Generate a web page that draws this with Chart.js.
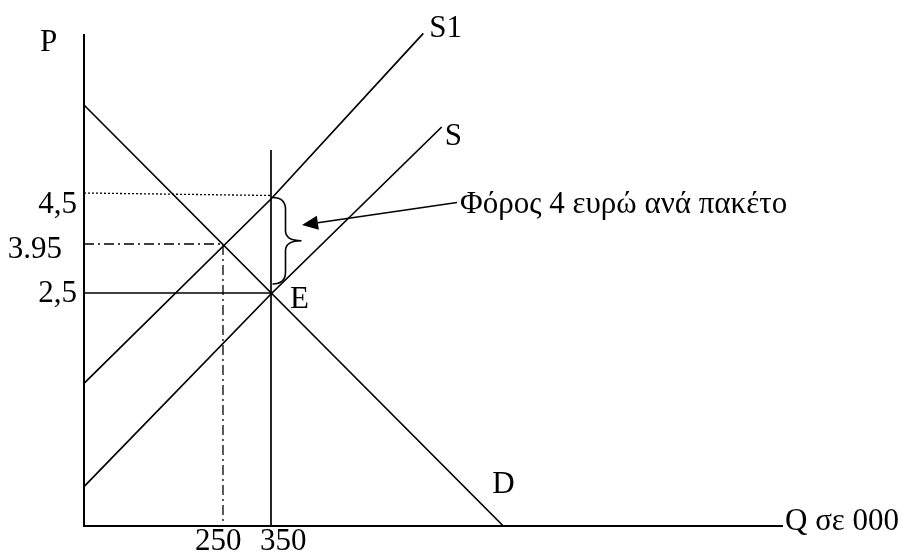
<!DOCTYPE html>
<html>
<head>
<meta charset="utf-8">
<script src="https://cdn.jsdelivr.net/npm/chart.js@4/dist/chart.umd.min.js"></script>
<style>
  html, body { margin: 0; padding: 0; background: #ffffff; }
  #wrap { width: 903px; height: 551px; position: relative; }
</style>
</head>
<body>
<div id="wrap"><canvas id="c" width="903" height="551"></canvas></div>
<script>
// ---- Data (diagram units: schematic economics diagram, not to scale) ----
const demandX  = [0, 41.93];
const demandY  = [42.1, 0];
const supplyX  = [0, 18.7, 35.77];
const supplyY  = [3.93, 23.2, 39.9];
const supply1X = [0, 18.7, 33.93];
const supply1Y = [14.27, 32.7, 49.27];
const quantityLevels = [13.9, 18.7];          // positions of Q = 250 and Q = 350
const quantityLabels = ["250", "350"];
const priceLevels = [33.3, 28.2, 23.3];       // positions of P = 4,5 / 3.95 / 2,5
const priceLabels = ["4,5", "3.95", "2,5"];
const curveLabels = ["S1", "S", "D", "E"];
const axisLabels = ["P", "Q σε 000"];
const taxNote = "Φόρος 4 ευρώ ανά πακέτο";

function pts(xs, ys) { return xs.map((x, i) => ({ x: x, y: ys[i] })); }

const FONT = '31px "Liberation Serif", "Times New Roman", serif';

const lineBase = { showLine: true, pointRadius: 0, borderColor: '#000', borderWidth: 1.7, fill: false, tension: 0, clip: false };

const datasets = [
  Object.assign({}, lineBase, { label: 'D',  data: pts(demandX, demandY) }),
  Object.assign({}, lineBase, { label: 'S',  data: pts(supplyX, supplyY) }),
  Object.assign({}, lineBase, { label: 'S1', data: pts(supply1X, supply1Y) }),
  // vertical line at Q = 350
  Object.assign({}, lineBase, { label: 'Q350', data: [{ x: quantityLevels[1], y: 0 }, { x: quantityLevels[1], y: 37.6 }] }),
  // solid price line at 2,5
  Object.assign({}, lineBase, { label: 'P25', data: [{ x: 0, y: priceLevels[2] }, { x: quantityLevels[1], y: priceLevels[2] }] }),
  // dotted line at 4,5
  Object.assign({}, lineBase, { label: 'P45', borderWidth: 1.3, borderDash: [2, 2], data: [{ x: 0, y: priceLevels[0] }, { x: quantityLevels[1], y: 33.05 }] }),
  // dash-dot lines at 3.95 / 250
  Object.assign({}, lineBase, { label: 'P395', borderWidth: 1.3, borderDash: [10, 4, 2, 4], data: [{ x: 0, y: priceLevels[1] }, { x: quantityLevels[0], y: priceLevels[1] }, { x: quantityLevels[0], y: 0 }] })
];

const annotations = {
  id: 'annotations',
  afterDatasetsDraw(chart) {
    const ctx = chart.ctx;
    const xs = chart.scales.x, ys = chart.scales.y;
    const X = v => xs.getPixelForValue(v);
    const Y = v => ys.getPixelForValue(v);
    ctx.save();
    ctx.fillStyle = '#000';
    ctx.strokeStyle = '#000';
    ctx.font = FONT;
    ctx.textBaseline = 'alphabetic';

    // axis titles
    ctx.textAlign = 'left';
    ctx.fillText(axisLabels[0], X(0) - 44, Y(49.1) + 16);
    ctx.fillText(axisLabels[1], X(69.8) + 3, Y(0) + 4);

    // price labels (left of the y axis)
    ctx.textAlign = 'right';
    const pDx = [-7, -22, -7];
    const pDy = [20, 14, 9];
    priceLevels.forEach((v, i) => ctx.fillText(priceLabels[i], X(0) + pDx[i], Y(v) + pDy[i]));

    // quantity labels (under the x axis)
    ctx.textAlign = 'left';
    const qDx = [-28, -11];
    quantityLevels.forEach((v, i) => ctx.fillText(quantityLabels[i], X(v) + qDx[i], Y(0) + 24));

    // curve labels
    ctx.fillText(curveLabels[0], X(supply1X[2]) + 6, Y(supply1Y[2]) + 4);
    ctx.fillText(curveLabels[1], X(supplyX[2]) + 3, Y(supplyY[2]) + 18);
    ctx.fillText(curveLabels[2], X(demandX[1]) - 11, Y(0) - 33);
    ctx.fillText(curveLabels[3], X(quantityLevels[1]) + 19, Y(supplyY[1]) + 14);

    // tax note
    ctx.fillText(taxNote, X(37.6), Y(priceLevels[0]) + 20);

    // brace between 4,5 and 2,5 on the Q=350 line
    const bx = X(quantityLevels[1]) + 1.5;
    const top = Y(32.85), bot = Y(24.2), mid = (top + bot) / 2;
    ctx.lineWidth = 1.6;
    ctx.beginPath();
    ctx.moveTo(bx, top);
    ctx.quadraticCurveTo(bx + 13, top, bx + 13, top + 12);
    ctx.lineTo(bx + 13, mid - 10);
    ctx.quadraticCurveTo(bx + 13, mid, bx + 29, mid);
    ctx.quadraticCurveTo(bx + 13, mid, bx + 13, mid + 10);
    ctx.lineTo(bx + 13, bot - 12);
    ctx.quadraticCurveTo(bx + 13, bot, bx, bot);
    ctx.stroke();

    // arrow from the note to the brace
    const sx = X(37.3), sy = Y(32.35);
    const tx = X(21.8), ty = Y(30.1);
    const ang = Math.atan2(ty - sy, tx - sx);
    const L = 16, W = 7;
    const bxh = tx - L * Math.cos(ang), byh = ty - L * Math.sin(ang);
    ctx.lineWidth = 1.6;
    ctx.beginPath();
    ctx.moveTo(sx, sy);
    ctx.lineTo(bxh, byh);
    ctx.stroke();
    ctx.beginPath();
    ctx.moveTo(tx, ty);
    ctx.lineTo(bxh + W * Math.sin(ang), byh - W * Math.cos(ang));
    ctx.lineTo(bxh - W * Math.sin(ang), byh + W * Math.cos(ang));
    ctx.closePath();
    ctx.fill();

    ctx.restore();
  }
};

new Chart(document.getElementById('c'), {
  type: 'scatter',
  data: { datasets: datasets },
  options: {
    responsive: false,
    animation: false,
    events: [],
    layout: { padding: { left: 84, right: 121, top: 35, bottom: 25 } },
    plugins: { legend: { display: false }, tooltip: { enabled: false }, title: { display: false } },
    scales: {
      x: {
        type: 'linear', min: 0, max: 69.8,
        grid: { display: false, drawTicks: false },
        ticks: { display: false },
        border: { display: true, color: '#000', width: 2 }
      },
      y: {
        type: 'linear', min: 0, max: 49.1,
        grid: { display: false, drawTicks: false },
        ticks: { display: false },
        border: { display: true, color: '#000', width: 2 }
      }
    }
  },
  plugins: [annotations]
});
</script>
</body>
</html>
